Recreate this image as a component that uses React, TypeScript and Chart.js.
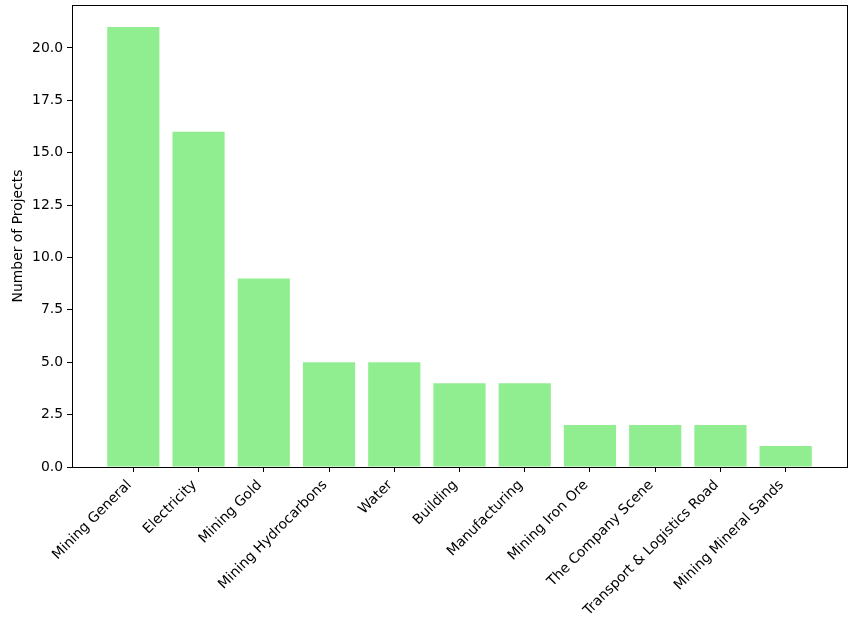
import React, { useEffect, useRef } from "react";
import { Chart, registerables } from "chart.js";

Chart.register(...registerables);

const categories = [
  "Mining General",
  "Electricity",
  "Mining Gold",
  "Mining Hydrocarbons",
  "Water",
  "Building",
  "Manufacturing",
  "Mining Iron Ore",
  "The Company Scene",
  "Transport & Logistics Road",
  "Mining Mineral Sands",
];
const projectCounts = [21, 16, 9, 5, 5, 4, 4, 2, 2, 2, 1];
const yTicks = [0, 2.5, 5, 7.5, 10, 12.5, 15, 17.5, 20];
const yLabel = "Number of Projects";

const W = 854;
const H = 620;
const AREA = { left: 72, right: 847, top: 5, bottom: 467 };

const boxPlugin = {
  id: "boxPlugin",
  afterDraw(chart: any) {
    const { ctx, chartArea } = chart;
    ctx.save();
    ctx.strokeStyle = "#000";
    ctx.lineWidth = 1;
    ctx.strokeRect(
      Math.round(chartArea.left) + 0.5,
      Math.round(chartArea.top) + 0.5,
      Math.round(chartArea.right - chartArea.left),
      Math.round(chartArea.bottom - chartArea.top)
    );
    ctx.restore();
  },
};

export default function App() {
  const ref = useRef<HTMLCanvasElement>(null);
  useEffect(() => {
    document.body.style.margin = "0";
    const n = categories.length;
    const yMax = Math.max(...projectCounts) * 1.05;
    const span = n - 1 + 0.8;
    const xLo = -0.4 - span * 0.05;
    const xHi = n - 1 + 0.4 + span * 0.05;
    Chart.defaults.font.family = "'DejaVu Sans', sans-serif";
    Chart.defaults.color = "#000";
    const chart = new Chart(ref.current as HTMLCanvasElement, {
      type: "bar",
      data: {
        datasets: [
          {
            data: projectCounts.map((v, i) => ({ x: i, y: v })),
            backgroundColor: "#90EE90",
            borderWidth: 0,
            barPercentage: 0.8,
            categoryPercentage: 1,
          },
        ],
      },
      options: {
        animation: false,
        responsive: false,
        maintainAspectRatio: false,
        layout: {
          padding: { left: 0, top: AREA.top, right: W - AREA.right, bottom: 0 },
        },
        plugins: { legend: { display: false }, tooltip: { enabled: false } },
        scales: {
          x: {
            type: "linear",
            offset: false,
            min: xLo,
            max: xHi,
            afterBuildTicks: (scale: any) => {
              scale.ticks = categories.map((_, i) => ({ value: i }));
            },
            afterFit: (scale: any) => {
              scale.height = H - AREA.bottom;
              scale.paddingLeft = 0;
              scale.paddingRight = 0;
            },
            ticks: {
              autoSkip: false,
              maxRotation: 45,
              minRotation: 45,
              padding: 5,
              labelOffset: -4,
              font: { size: 13.9 },
              callback: (v: any) => categories[Math.round(v)] ?? "",
            },
            grid: {
              display: true,
              offset: false,
              drawOnChartArea: false,
              tickLength: 5,
              tickColor: "#000",
              tickWidth: 1,
            },
            border: { display: false },
          },
          y: {
            type: "linear",
            min: 0,
            max: yMax,
            afterBuildTicks: (scale: any) => {
              scale.ticks = yTicks.map((v) => ({ value: v }));
            },
            afterFit: (scale: any) => {
              scale.width = AREA.left;
              scale.paddingTop = 0;
              scale.paddingBottom = 0;
            },
            ticks: {
              padding: 4,
              font: { size: 13.9 },
              callback: (v: any) => Number(v).toFixed(1),
            },
            title: {
              display: true,
              text: yLabel,
              font: { size: 13.9 },
              padding: { top: 10, bottom: 0 },
            },
            grid: {
              display: true,
              drawOnChartArea: false,
              tickLength: 5,
              tickColor: "#000",
              tickWidth: 1,
            },
            border: { display: false },
          },
        },
      },
      plugins: [boxPlugin],
    });
    return () => chart.destroy();
  }, []);
  return (
    <canvas
      ref={ref}
      width={W}
      height={H}
      style={{ display: "block", width: W, height: H }}
    />
  );
}
